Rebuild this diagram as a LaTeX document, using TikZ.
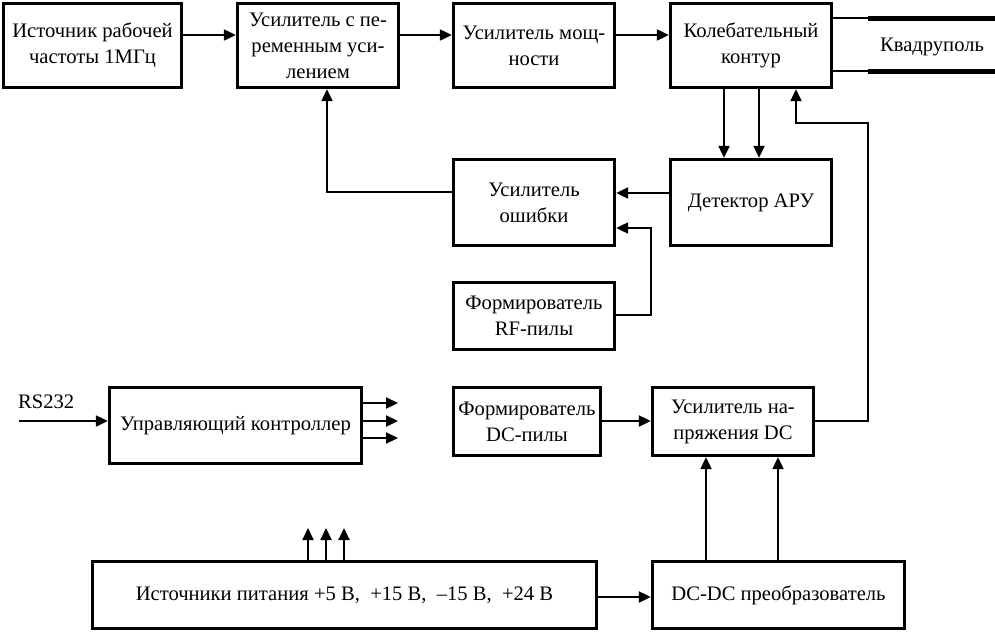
\documentclass[tikz,border=0pt]{standalone}
\usepackage{fontspec}
\setmainfont{Liberation Serif}
\usetikzlibrary{arrows.meta}
\begin{document}
\begin{tikzpicture}[x=1pt,y=-1pt,
  box/.style={draw, line width=3.4pt, inner sep=0pt, align=center,
    font=\fontsize{20.6}{26}\selectfont},
  txt/.style={font=\fontsize{20.6}{26}\selectfont},
  conn/.style={line width=2.2pt},
  arr/.style={line width=2.2pt, -{Triangle[length=12pt,width=11pt]}},
  quad/.style={line width=5pt}]
\useasboundingbox (0,0) rectangle (995,632);
% boxes
\node[box, minimum width=178, minimum height=84] (src) at (92.5,45.5) {Источник рабочей\\частоты 1МГц};
\node[box, minimum width=161, minimum height=84] (vga) at (318,45.5) {Усилитель с пе-\\ременным уси-\\лением};
\node[box, minimum width=161, minimum height=84] (pa) at (534,45.5) {Усилитель мощ-\\ности};
\node[box, minimum width=161, minimum height=84] (tank) at (751,45.5) {Колебательный\\контур};
\node[box, minimum width=161, minimum height=86] (err) at (534,202.5) {Усилитель\\ошибки};
\node[box, minimum width=161, minimum height=86] (det) at (751,202.5) {Детектор АРУ};
\node[box, minimum width=161, minimum height=67] (rf) at (534,316) {Формирователь\\RF-пилы};
\node[box, minimum width=252, minimum height=76] (ctrl) at (235.5,425.5) {\raisebox{4pt}{Управляющий контроллер}};
\node[box, minimum width=147, minimum height=68] (dcp) at (527,421.5) {Формирователь\\DC-пилы};
\node[box, minimum width=161, minimum height=68] (udc) at (733,421.5) {Усилитель на-\\пряжения DC};
\node[box, minimum width=504, minimum height=67] (pwr) at (344.5,595) {Источники питания +5 В,\ \ +15 В,\ \ –15 В,\ \ +24 В};
\node[box, minimum width=252, minimum height=67] (dcdc) at (778.5,595) {DC-DC преобразователь};
\node[txt] (quadtext) at (932,47) {Квадруполь};
\node[txt, anchor=west, inner sep=0pt] (rs) at (18,402) {RS232};
% coordinates
\coordinate (rsin) at (19,421);
\coordinate (q1a) at (868,18); \coordinate (q1b) at (995,18);
\coordinate (q2a) at (868,71); \coordinate (q2b) at (995,71);
\coordinate (o1) at (398,403); \coordinate (o2) at (398,421); \coordinate (o3) at (398,438);
\coordinate (p1) at (308,528); \coordinate (p2) at (326,528); \coordinate (p3) at (344,528);
% top chain
\draw[arr] (src.east |- 0,35) -- (vga.west |- 0,35);
\draw[arr] (vga.east |- 0,35) -- (pa.west |- 0,35);
\draw[arr] (pa.east |- 0,35) -- (tank.west |- 0,35);
% quadrupole
\draw[conn] (tank.east |- q1a) -- (q1a);
\draw[quad] (q1a) -- (q1b);
\draw[conn] (tank.east |- q2a) -- (q2a);
\draw[quad] (q2a) -- (q2b);
% tank -> det
\draw[arr] (tank.south -| 724,0) -- (det.north -| 724,0);
\draw[arr] (tank.south -| 759,0) -- (det.north -| 759,0);
% det -> err
\draw[arr] (det.west |- 0,193) -- (err.east |- 0,193);
% err -> vga
\draw[arr] (err.west |- 0,192) -| (vga.south -| 327,0);
% rf -> err
\draw[arr] (rf.east |- 0,315) -- (651,315) -- (651,228) -- (err.east |- 0,228);
% dc pila -> udc
\draw[arr] (dcp.east |- 0,421) -- (udc.west |- 0,421);
% udc -> tank
\draw[arr] (udc.east |- 0,421) -- (868,421) -- (868,123) -- (796,123) -- (tank.south -| 796,0);
% dcdc -> udc
\draw[arr] (dcdc.north -| 706,0) -- (udc.south -| 706,0);
\draw[arr] (dcdc.north -| 778,0) -- (udc.south -| 778,0);
% pwr -> dcdc
\draw[arr] (pwr.east |- 0,597) -- (dcdc.west |- 0,597);
% pwr outputs
\draw[arr] (pwr.north -| p1) -- (p1);
\draw[arr] (pwr.north -| p2) -- (p2);
\draw[arr] (pwr.north -| p3) -- (p3);
% ctrl
\draw[arr] (rsin) -- (ctrl.west |- rsin);
\draw[arr] (ctrl.east |- o1) -- (o1);
\draw[arr] (ctrl.east |- o2) -- (o2);
\draw[arr] (ctrl.east |- o3) -- (o3);
\end{tikzpicture}
\end{document}
